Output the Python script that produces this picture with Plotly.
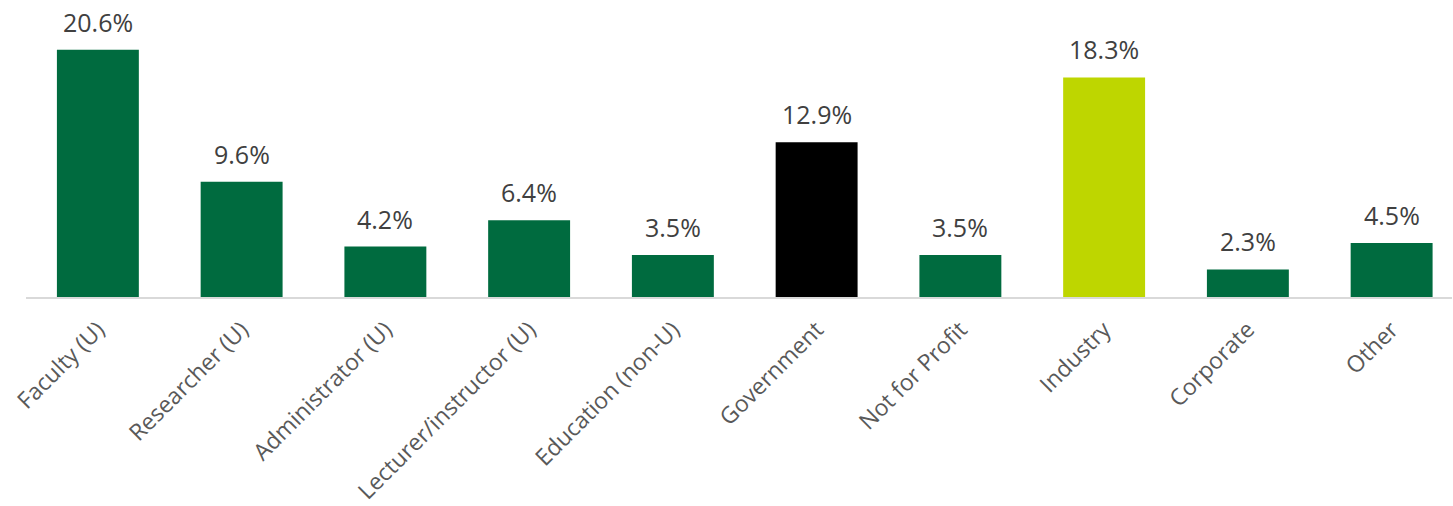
import plotly.graph_objects as go

categories = ["Faculty (U)", "Researcher (U)", "Administrator (U)", "Lecturer/instructor (U)",
              "Education (non-U)", "Government", "Not for Profit", "Industry", "Corporate", "Other"]
values = [20.6, 9.6, 4.2, 6.4, 3.5, 12.9, 3.5, 18.3, 2.3, 4.5]
colors = ["#006B3F", "#006B3F", "#006B3F", "#006B3F", "#006B3F",
          "#000000", "#006B3F", "#BED600", "#006B3F", "#006B3F"]
labels = [f"{v:.1f}%" for v in values]

fig = go.Figure(go.Bar(
    x=categories, y=values, marker=dict(color=colors, line=dict(width=0)),
))
for c, v, t in zip(categories, values, labels):
    fig.add_annotation(x=c, y=v, text=t, showarrow=False, yanchor="bottom", yshift=9,
                       font=dict(family="Open Sans", size=25, color="#404040"))
fig.update_layout(
    width=1453, height=506, margin=dict(l=26, r=1, t=0, b=209),
    paper_bgcolor="white", plot_bgcolor="white", showlegend=False,
    bargap=0.43,
    xaxis=dict(range=[-0.5, 9.42], tickangle=-45, showline=True, linecolor="#D9D9D9", linewidth=2,
               ticks="", ticklabelstandoff=8, automargin=False,
               tickfont=dict(family="Open Sans", size=23, color="#595959")),
    yaxis=dict(range=[0, 24.75], visible=False, showgrid=False, zeroline=False, automargin=False),
)
fig.write_html("out.html")
